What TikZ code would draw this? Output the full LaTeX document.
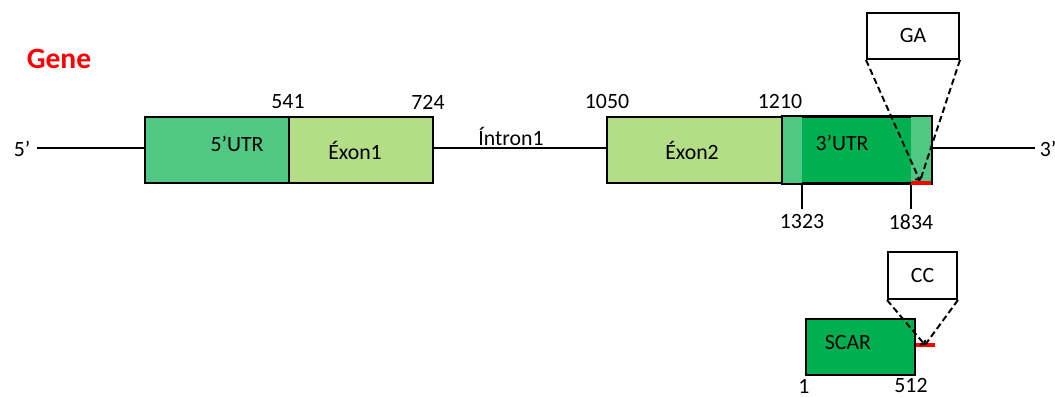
\documentclass[tikz,border=0pt]{standalone}
\usepackage{fontspec}
\setmainfont{Carlito}
\usetikzlibrary{arrows.meta}
\definecolor{utrgreen}{RGB}{80,200,132}
\definecolor{exongreen}{RGB}{180,222,134}
\definecolor{scargreen}{RGB}{0,176,80}
\begin{document}
\begin{tikzpicture}[x=0.025cm, y=-0.025cm, line width=1.3pt, font=\fontsize{15.5}{18}\selectfont]
			\tikzstyle{region}  = [rectangle, draw=black, line width=1.4pt, inner sep=0pt, minimum height=1.65cm]
			\tikzstyle{seqbox}  = [rectangle, draw=black, line width=1.4pt, inner sep=0pt, fill=white]
			\tikzstyle{zoomline} = [dash pattern=on 4.5pt off 2.5pt, line width=1.4pt]
			\tikzstyle{snp}     = [red, line width=2.6pt]

			\useasboundingbox (0,0) rectangle (1055,398);

			\node[font=\fontsize{21}{24}\selectfont\bfseries, text=red] (gene) at (59,59) {Gene};

			% gene regions
			\node[region, fill=utrgreen,  minimum width=3.6cm] (utr5) at (217,150) {};
			\node[region, fill=exongreen, minimum width=3.6cm] (ex1)  at (361,150) {};
			\node[region, fill=exongreen, minimum width=4.4cm] (ex2)  at (695,150) {};
			\node[region, fill=scargreen, minimum width=3.7cm] (utr3) at (857,150) {};
			\fill[utrgreen] (783,117) rectangle (802,183);
			\fill[utrgreen] (911,117) rectangle (931,183);
			\draw[line width=1.4pt] (utr3.north west) rectangle (utr3.south east);

			\foreach \name/\x/\y/\text in {tutr5/237/144/5’UTR, tex1/355/150/Éxon1, tex2/692/150/Éxon2, tutr3/842/143/3’UTR, tintr/511/136/Íntron1}
				\node (\name) at (\x,\y) {\text};

			% backbone
			\coordinate (end5) at (37,148);
			\coordinate (end3) at (1035,148);
			\node (p5) at (22,149) {5’};
			\node (p3) at (1048,149) {3’};
			\draw (end5) -- (end5 -| utr5.west);
			\draw (ex1.east |- end5) -- (ex2.west |- end5);
			\draw (utr3.east |- end3) -- (end3);

			% positions
			\foreach \name/\x/\y/\text in {n541/288/102/541, n724/428/102/724, n1050/607/102/1050, n1210/780/102/1210, n1323/802/222/1323, n1834/911/222/1834}
				\node (\name) at (\x,\y) {\text};
			\draw (802,183) -- (n1323.north);
			\draw (911,183) -- (n1834.north);

			% GA variant
			\draw[snp] (911,183) -- (931,183);
			\node[seqbox, minimum width=2.3cm, minimum height=1.15cm] (ga) at (913,36) {GA};
			\coordinate (tipga) at (920,181);
			\draw[zoomline, -{To[length=3pt,width=6pt]}] (ga.south west) -- (tipga);
			\draw[zoomline] (ga.south east) -- (tipga);

			% SCAR marker
			\node[seqbox, fill=scargreen, minimum width=2.725cm, minimum height=1.4cm] (scar) at (860.5,347) {};
			\node (tscar) at (848,343) {SCAR};
			\draw[snp] (scar.east |- 0,345) -- (935,345);
			\node[seqbox, minimum width=1.725cm, minimum height=1.175cm] (cc) at (922.5,275.5) {CC};
			\coordinate (tipcc) at (925,345);
			\draw[zoomline, -{To[length=3pt,width=6pt]}] (cc.south west) -- (tipcc);
			\draw[zoomline] (cc.south east) -- (tipcc);
			\node[inner sep=1pt] (n1) at (804,386) {1};
			\node[inner sep=1pt] (n512) at (911,386) {512};

		\end{tikzpicture}
\end{document}
